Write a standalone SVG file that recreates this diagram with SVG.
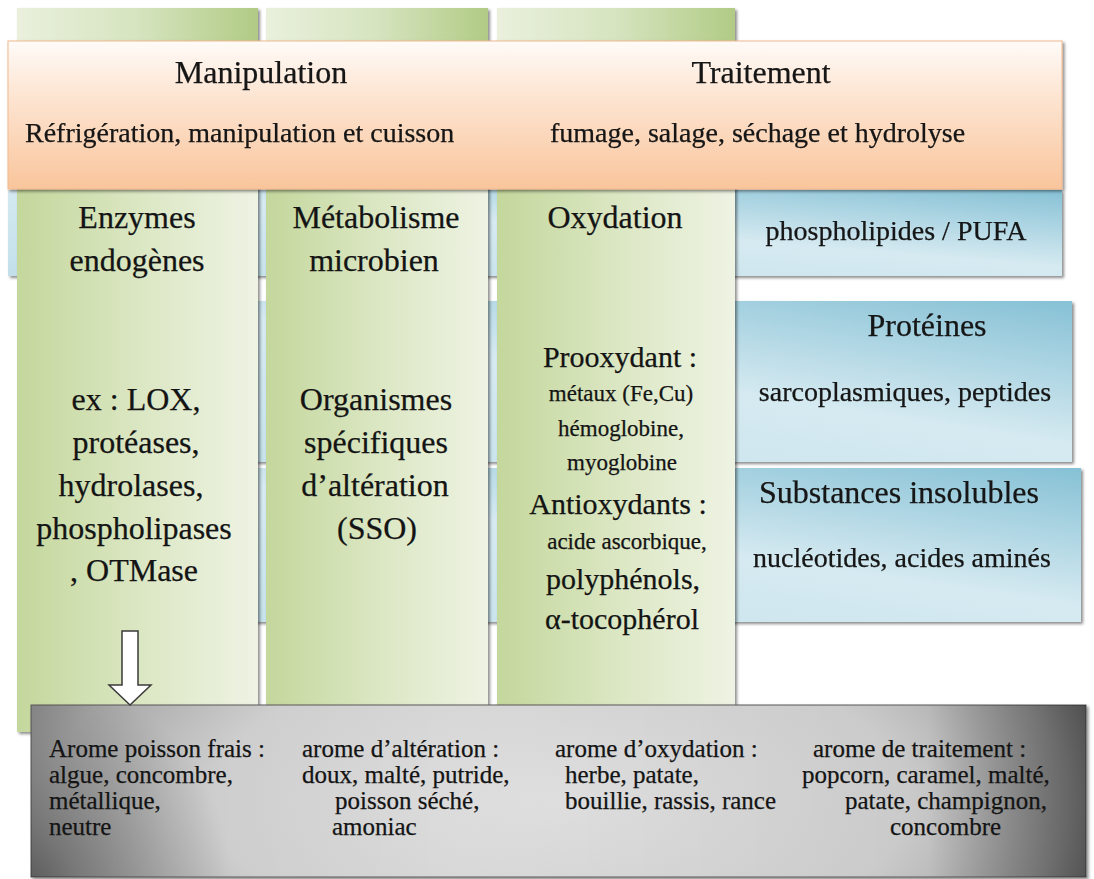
<svg xmlns="http://www.w3.org/2000/svg" width="1094" height="879" viewBox="0 0 1094 879">
<style>
text{font-family:"Liberation Serif","Times New Roman",serif;fill:#141414;stroke:#141414;stroke-width:0.25;}
.t{text-anchor:middle;}
.h{font-size:32px;}
.b{font-size:30px;}
.m{font-size:28px;}
.s{font-size:23px;}
.g{font-size:25px;}
</style>
<defs>
<linearGradient id="green" x1="0" y1="0" x2="1" y2="0">
<stop offset="0" stop-color="#c4d79c"/>
<stop offset="0.55" stop-color="#dde8c6"/>
<stop offset="1" stop-color="#eef3e3"/>
</linearGradient>
<linearGradient id="greenTop" x1="0" y1="0" x2="1" y2="0">
<stop offset="0" stop-color="#e9f0dd"/>
<stop offset="0.5" stop-color="#d6e4bf"/>
<stop offset="1" stop-color="#b1cb85"/>
</linearGradient>
<linearGradient id="orange" x1="0" y1="0" x2="0" y2="1">
<stop offset="0" stop-color="#fffbf8"/>
<stop offset="0.35" stop-color="#fde6d4"/>
<stop offset="1" stop-color="#f9c59c"/>
</linearGradient>
<linearGradient id="blue" x1="1" y1="0" x2="0" y2="1">
<stop offset="0" stop-color="#86c1d5"/>
<stop offset="0.45" stop-color="#d6eaf1"/>
<stop offset="1" stop-color="#c2e0ea"/>
</linearGradient>
<radialGradient id="gray" gradientUnits="userSpaceOnUse" cx="560" cy="800" r="580" gradientTransform="translate(0,800) scale(1,0.45) translate(0,-800)">
<stop offset="0" stop-color="#e0e0e0"/>
<stop offset="0.6" stop-color="#d2d2d2"/>
<stop offset="0.88" stop-color="#ababab"/>
<stop offset="1" stop-color="#8c8c8c"/>
</radialGradient>
<linearGradient id="grayRight" x1="0" y1="0" x2="1" y2="0">
<stop offset="0" stop-color="#000" stop-opacity="0.04"/>
<stop offset="0.4" stop-color="#000" stop-opacity="0"/>
<stop offset="0.85" stop-color="#000" stop-opacity="0.04"/>
<stop offset="1" stop-color="#000" stop-opacity="0.45"/>
</linearGradient>
<radialGradient id="grayBL" gradientUnits="userSpaceOnUse" cx="31" cy="877" r="200">
<stop offset="0" stop-color="#000" stop-opacity="0.35"/>
<stop offset="1" stop-color="#000" stop-opacity="0"/>
</radialGradient>
<filter id="sh" x="-5%" y="-5%" width="110%" height="110%">
<feDropShadow dx="2" dy="2" stdDeviation="1.5" flood-color="#000" flood-opacity="0.45"/>
</filter>
</defs>

<!-- blue rows (behind columns) -->
<g id="row-phospholipides" filter="url(#sh)">
<rect x="8" y="190" width="1054" height="86" fill="url(#blue)"/>
<text class="t m" x="896" y="240">phospholipides / PUFA</text>
</g>
<g id="row-proteines" filter="url(#sh)">
<rect x="22" y="301" width="1050" height="161" fill="url(#blue)"/>
<text class="t h" x="927" y="336">Protéines</text>
<text class="t m" x="905" y="401">sarcoplasmiques, peptides</text>
</g>
<g id="row-substances" filter="url(#sh)">
<rect x="22" y="468" width="1059" height="154" fill="url(#blue)"/>
<text class="t h" x="899" y="503">Substances insolubles</text>
<text class="t m" x="902" y="567">nucléotides, acides aminés</text>
</g>

<!-- green columns -->
<g id="col-enzymes">
<rect x="17" y="8" width="241" height="724" fill="url(#green)" filter="url(#sh)"/>
<rect x="17" y="8" width="241" height="36" fill="url(#greenTop)"/>
<text class="t h" x="137" y="228">Enzymes</text>
<text class="t h" x="137" y="271">endogènes</text>
<text class="t h" x="136" y="410">ex : LOX,</text>
<text class="t h" x="136" y="453">protéases,</text>
<text class="t h" x="131" y="496">hydrolases,</text>
<text class="t h" x="134" y="539">phospholipases</text>
<text class="t h" x="134" y="581">, OTMase</text>
</g>
<g id="col-metabolisme">
<rect x="266" y="8" width="222" height="724" fill="url(#green)" filter="url(#sh)"/>
<rect x="266" y="8" width="222" height="36" fill="url(#greenTop)"/>
<text class="t h" x="376" y="228">Métabolisme</text>
<text class="t h" x="374" y="271">microbien</text>
<text class="t h" x="376" y="410">Organismes</text>
<text class="t h" x="376" y="453">spécifiques</text>
<text class="t h" x="375" y="496">d’altération</text>
<text class="t h" x="377" y="539">(SSO)</text>
</g>
<g id="col-oxydation">
<rect x="497" y="8" width="238" height="724" fill="url(#green)" filter="url(#sh)"/>
<rect x="497" y="8" width="238" height="36" fill="url(#greenTop)"/>
<text class="t h" x="615" y="228">Oxydation</text>
<text class="t b" x="620" y="367">Prooxydant :</text>
<text class="t s" x="621" y="401">métaux (Fe,Cu)</text>
<text class="t s" x="621" y="436">hémoglobine,</text>
<text class="t s" x="622" y="470">myoglobine</text>
<text class="t b" x="618" y="514">Antioxydants :</text>
<text class="t s" x="627" y="549">acide ascorbique,</text>
<text class="t b" x="623" y="589">polyphénols,</text>
<text class="t b" x="622" y="629">α-tocophérol</text>
</g>

<!-- orange band -->
<g id="band-processes" filter="url(#sh)">
<rect x="8" y="41" width="1054" height="148" fill="url(#orange)" stroke="#f2b98f" stroke-width="1"/>
<text class="t h" x="261" y="83">Manipulation</text>
<text class="t h" x="761" y="83">Traitement</text>
<text class="m" x="25" y="142">Réfrigération, manipulation et cuisson</text>
<text class="m" x="550" y="142">fumage, salage, séchage et hydrolyse</text>
</g>

<!-- gray aroma box -->
<g id="box-aromes">
<rect x="31" y="705" width="1055" height="172" fill="url(#gray)" stroke="#5a5a5a" stroke-width="1" filter="url(#sh)"/>
<rect x="31" y="705" width="1055" height="172" fill="url(#grayRight)"/>
<rect x="31" y="705" width="1055" height="172" fill="url(#grayBL)"/>
<text class="g" x="49" y="757">Arome poisson frais :</text>
<text class="g" x="49" y="783">algue, concombre,</text>
<text class="g" x="49" y="809">métallique,</text>
<text class="g" x="49" y="835">neutre</text>
<text class="g" x="302" y="757">arome d’altération :</text>
<text class="g" x="302" y="783">doux, malté, putride,</text>
<text class="g" x="335" y="809">poisson séché,</text>
<text class="g" x="332" y="835">amoniac</text>
<text class="g" x="555" y="757">arome d’oxydation :</text>
<text class="g" x="565" y="783">herbe, patate,</text>
<text class="g" x="565" y="809">bouillie, rassis, rance</text>
<text class="g" x="813" y="757">arome de traitement :</text>
<text class="g" x="802" y="783">popcorn, caramel, malté,</text>
<text class="g" x="845" y="809">patate, champignon,</text>
<text class="g" x="890" y="835">concombre</text>
</g>

<!-- connectors -->
<g id="connectors">
<path d="M122,631 H138 V685 H151 L130,705 L109,685 H122 Z" fill="#ffffff" stroke="#3a3a3a" stroke-width="1.5" stroke-linejoin="miter"/>
</g>
</svg>
